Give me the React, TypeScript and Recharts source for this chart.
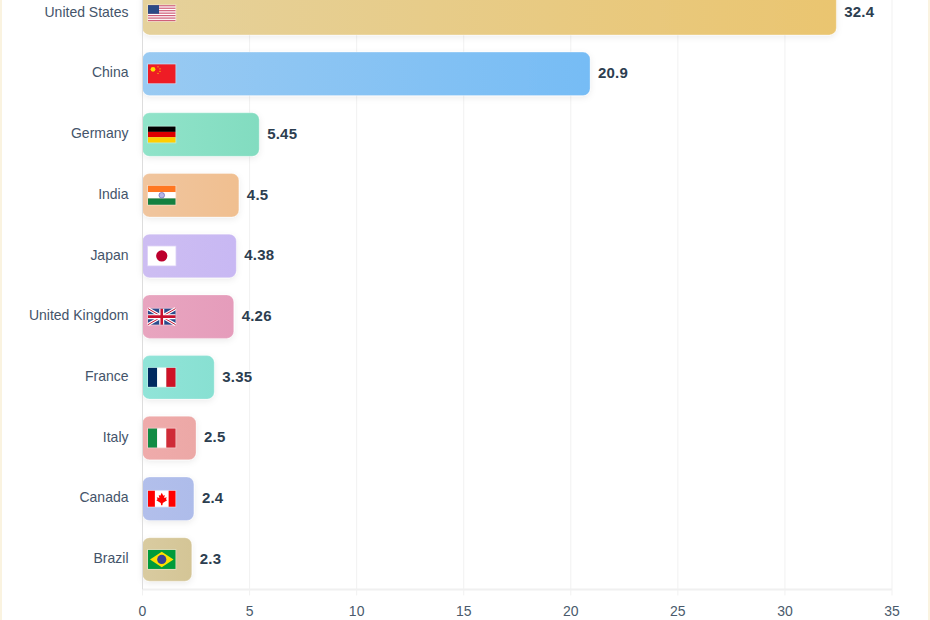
import React from "react";
import { BarChart, Bar, XAxis, YAxis, CartesianGrid, LabelList, Rectangle } from "recharts";

const COUNTRIES = ["United States", "China", "Germany", "India", "Japan", "United Kingdom", "France", "Italy", "Canada", "Brazil"];
const VALUES = [32.4, 20.9, 5.45, 4.5, 4.38, 4.26, 3.35, 2.5, 2.4, 2.3];
const CODES = ["us", "cn", "de", "in", "jp", "gb", "fr", "it", "ca", "br"];
const START_COLORS = ["#e5d19b", "#99caf2", "#90e3c9", "#f0c59e", "#cdbdf2", "#e8a5bf", "#90e4d8", "#efabab", "#b2bfeb", "#d9cba0"];
const END_COLORS = ["#eac570", "#76bcf5", "#82dcc0", "#f0bf90", "#c8b8f3", "#e59cbb", "#88e0d2", "#eca8a6", "#aebcea", "#d4c596"];
const X_TICKS = [0, 5, 10, 15, 20, 25, 30, 35];

const data = COUNTRIES.map((name, i) => ({ name, value: VALUES[i], code: CODES[i], index: i }));

const FLAG_W = 27.5;
const FLAG_SHORT = ["us", "de", "gb", "ca"];

function flagBody(code: string, w: number, h: number) {
  switch (code) {
    case "us":
      return (
        <>
          <rect width={w} height={h} fill="#fff" />
          {[0, 1, 2, 3, 4, 5, 6].map((s) => (
            <rect key={s} y={(s * 2 * h) / 13} width={w} height={h / 13} fill="#d0607a" />
          ))}
          <rect width={w * 0.4} height={(h * 7) / 13} fill="#2b4a85" />
        </>
      );
    case "cn":
      return (
        <>
          <rect width={w} height={h} fill="#ee1c25" />
          <circle cx={5} cy={5} r={2.4} fill="#ffde00" />
          {[[10, 2.5], [12, 4.5], [12, 7], [10, 9]].map(([x, y]) => (
            <circle key={x + "-" + y} cx={x} cy={y} r={0.7} fill="#ffcc00" />
          ))}
        </>
      );
    case "de":
      return (
        <>
          <rect width={w} height={h / 3} fill="#000" />
          <rect y={h / 3} width={w} height={h / 3} fill="#dd0000" />
          <rect y={(2 * h) / 3} width={w} height={h / 3} fill="#ffce00" />
        </>
      );
    case "in":
      return (
        <>
          <rect width={w} height={h / 3} fill="#ff7722" />
          <rect y={h / 3} width={w} height={h / 3} fill="#fff" />
          <rect y={(2 * h) / 3} width={w} height={h / 3} fill="#138040" />
          <circle cx={w / 2} cy={h / 2} r={2.8} fill="#b5b5e6" stroke="#5a5ab0" strokeWidth={0.6} />
        </>
      );
    case "jp":
      return (
        <>
          <rect width={w} height={h} fill="#fff" />
          <circle cx={w / 2} cy={h / 2} r={5.6} fill="#bc002d" />
        </>
      );
    case "gb":
      return (
        <>
          <rect width={w} height={h} fill="#2a4a8c" />
          <path d={`M0 0L${w} ${h}M${w} 0L0 ${h}`} stroke="#fff" strokeWidth={3} />
          <path d={`M0 0L${w} ${h}M${w} 0L0 ${h}`} stroke="#c8102e" strokeWidth={1} />
          <path d={`M${w / 2} 0V${h}M0 ${h / 2}H${w}`} stroke="#fff" strokeWidth={5} />
          <path d={`M${w / 2} 0V${h}M0 ${h / 2}H${w}`} stroke="#c8102e" strokeWidth={2.6} />
        </>
      );
    case "fr":
      return (
        <>
          <rect width={w / 3} height={h} fill="#002a60" />
          <rect x={w / 3} width={w / 3} height={h} fill="#fff" />
          <rect x={(2 * w) / 3} width={w / 3} height={h} fill="#ce1126" />
        </>
      );
    case "it":
      return (
        <>
          <rect width={w / 3} height={h} fill="#128c45" />
          <rect x={w / 3} width={w / 3} height={h} fill="#fff" />
          <rect x={(2 * w) / 3} width={w / 3} height={h} fill="#cf2b37" />
        </>
      );
    case "ca":
      return (
        <>
          <rect width={w} height={h} fill="#fff" />
          <rect width={w / 4} height={h} fill="#ff0000" />
          <rect x={(3 * w) / 4} width={w / 4} height={h} fill="#ff0000" />
          <path
            transform={`translate(${w / 2} ${h / 2})`}
            d="M0 -6L1.5 -3L3 -3.8L2.4 -0.8L5 -1.6L4.2 0.6L5.4 1.4L1 4.2L0.6 6.4H-0.6L-1 4.2L-5.4 1.4L-4.2 0.6L-5 -1.6L-2.4 -0.8L-3 -3.8L-1.5 -3Z"
            fill="#ff0000"
          />
        </>
      );
    default:
      return (
        <>
          <rect width={w} height={h} fill="#009b3a" />
          <path d={`M${w / 2} 1.8L${w - 2} ${h / 2}L${w / 2} ${h - 1.8}L2 ${h / 2}Z`} fill="#fedf00" />
          <circle cx={w / 2} cy={h / 2} r={4.6} fill="#3a3f96" />
        </>
      );
  }
}

function FlagBar(props: any) {
  const { x, y, width, height, payload } = props;
  const h = FLAG_SHORT.includes(payload.code) ? 16 : 19;
  const fx = x + 5.5;
  const fy = y + height / 2 - h / 2;
  return (
    <g>
      <Rectangle
        x={x}
        y={y}
        width={width}
        height={height}
        radius={7}
        fill={`url(#barFill${payload.index})`}
        stroke="rgba(255,255,255,0.3)"
        strokeWidth={1}
        filter="url(#barShadow)"
      />
      <g transform={`translate(${fx} ${fy})`}>
        <rect x={-0.8} y={-0.8} width={FLAG_W + 1.6} height={h + 1.6} fill="#fff" opacity={0.4} />
        {flagBody(payload.code, FLAG_W, h)}
      </g>
    </g>
  );
}

export default function App() {
  return (
    <div
      style={{
        position: "absolute",
        left: 0,
        top: 0,
        width: 930,
        height: 620,
        overflow: "hidden",
        background: "#fff",
        boxSizing: "border-box",
        borderLeft: "2px solid #faf3e0",
        borderRight: "2px solid #faf3e0",
      }}
    >
      <div style={{ position: "absolute", left: -2, top: -18 }}>
        <BarChart
          width={930}
          height={640.4}
          data={data}
          layout="vertical"
          barCategoryGap={0}
          margin={{ top: 0.4, right: 38, bottom: 0, left: 0 }}
        >
          <defs>
            {COUNTRIES.map((c, i) => (
              <linearGradient key={c} id={`barFill${i}`} x1="0" y1="0" x2="1" y2="0">
                <stop offset="0%" stopColor={START_COLORS[i]} />
                <stop offset="100%" stopColor={END_COLORS[i]} />
              </linearGradient>
            ))}
            <filter id="barShadow" x="-10%" y="-20%" width="120%" height="150%">
              <feDropShadow dx={0} dy={2} stdDeviation={3} floodColor="#000" floodOpacity={0.08} />
            </filter>
          </defs>
          <CartesianGrid horizontal={false} stroke="#f1f1f1" />
          <XAxis
            type="number"
            domain={[0, 35]}
            ticks={X_TICKS}
            interval={0}
            height={33}
            tick={{ fontSize: 14, fill: "#4a5a6c", fontFamily: "'Liberation Sans', sans-serif" }}
            tickLine={{ stroke: "#f1f1f1" }}
            axisLine={{ stroke: "#f0f0f0", strokeWidth: 2 }}
            tickMargin={11}
          />
          <YAxis
            type="category"
            dataKey="name"
            width={142.5}
            interval={0}
            tick={{ fontSize: 14, fill: "#44546a", fontFamily: "'Liberation Sans', sans-serif", dy: -1 }}
            tickLine={false}
            axisLine={{ stroke: "#dddddd" }}
            tickMargin={8}
          />
          <Bar dataKey="value" barSize={43.5} shape={FlagBar} isAnimationActive={false}>
            <LabelList
              dataKey="value"
              position="right"
              offset={8}
              dy={-1}
              style={{ fontSize: 15, fontWeight: 700, fill: "#2c3e50", fontFamily: "'Liberation Sans', sans-serif", letterSpacing: 0.2 }}
            />
          </Bar>
        </BarChart>
      </div>
    </div>
  );
}
